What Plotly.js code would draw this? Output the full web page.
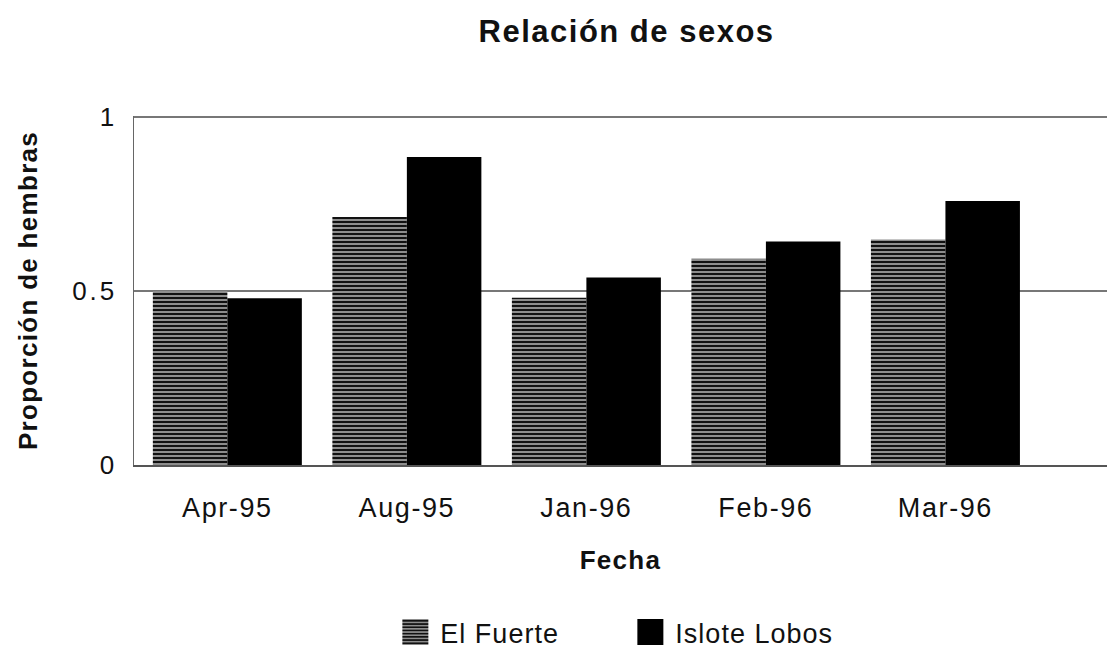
<!DOCTYPE html>
<html><head><meta charset="utf-8">
<script src="https://cdn.plot.ly/plotly-3.0.1.min.js"></script>
<style>
html,body{margin:0;padding:0;background:#fff}#c{width:1107px;height:657px}
.xtick text{letter-spacing:1.6px}
.ytick text{letter-spacing:3px}
.gtitle{letter-spacing:1.5px}
.ytitle,.xtitle{letter-spacing:1.3px}
.legendtext{letter-spacing:1px}
</style>
</head><body><div id="c"></div>
<script>
const categories = ["Apr-95", "Aug-95", "Jan-96", "Feb-96", "Mar-96"];
const elFuerte = [0.50, 0.713, 0.481, 0.593, 0.648];
const isloteLobos = [0.479, 0.885, 0.539, 0.642, 0.759];
const seriesNames = ["El Fuerte", "Islote Lobos"];

const font = "Liberation Sans, Arial, sans-serif";
const traces = [
  {type: "bar", name: seriesNames[0], x: categories, y: elFuerte,
   marker: {color: "#888", line: {width: 0},
            pattern: {shape: "-", fgcolor: "#111", bgcolor: "#9a9a9a", size: 4, solidity: 0.55}}},
  {type: "bar", name: seriesNames[1], x: categories, y: isloteLobos,
   marker: {color: "#000", line: {width: 0}}}
];
const layout = {
  width: 1107, height: 657,
  margin: {l: 134, r: 0, t: 116, b: 191},
  paper_bgcolor: "#fff", plot_bgcolor: "#fff",
  barmode: "group", bargap: 0.17, bargroupgap: 0,
  font: {family: font, color: "#111", size: 20},
  title: {text: "<b>Relación de sexos</b>", x: 0.566, xanchor: "center", y: 0.953, yanchor: "middle",
          font: {family: font, size: 31, color: "#111"}},
  xaxis: {type: "category", range: [-0.52, 4.9], showgrid: false, showline: true, linecolor: "#555", linewidth: 2,
          ticks: "outside", ticklen: 0, ticklabelstandoff: 18, tickfont: {size: 27, family: font, color: "#111"},
          title: {text: "<b>Fecha</b>", font: {size: 26, family: font, color: "#111"}, standoff: 28}},
  yaxis: {range: [0, 1.003], tickvals: [0, 0.5, 1], ticktext: ["0", "0.5", "1"], showgrid: true, gridcolor: "#777", gridwidth: 1.5,
          zeroline: false, showline: true, linecolor: "#666", linewidth: 1.5, ticks: "", ticklen: 0,
          ticklabelstandoff: 10, tickfont: {size: 26, family: font, color: "#111"},
          title: {text: "<b>Proporción de hembras</b>", font: {size: 26, family: font, color: "#111"}, standoff: 27}},
  showlegend: true,
  legend: {orientation: "h", x: 0.505, xanchor: "center", y: -0.481, yanchor: "middle",
           font: {size: 27, family: font, color: "#111"}, itemwidth: 40, entrywidth: 180}
};
Plotly.newPlot("c", traces, layout, {displayModeBar: false, staticPlot: true}).then(function (gd) {
  gd.querySelectorAll(".legendpoints path").forEach(function (p) {
    p.setAttribute("d", "M13,13H-13V-13H13Z");
  });
});
</script>
</body></html>
